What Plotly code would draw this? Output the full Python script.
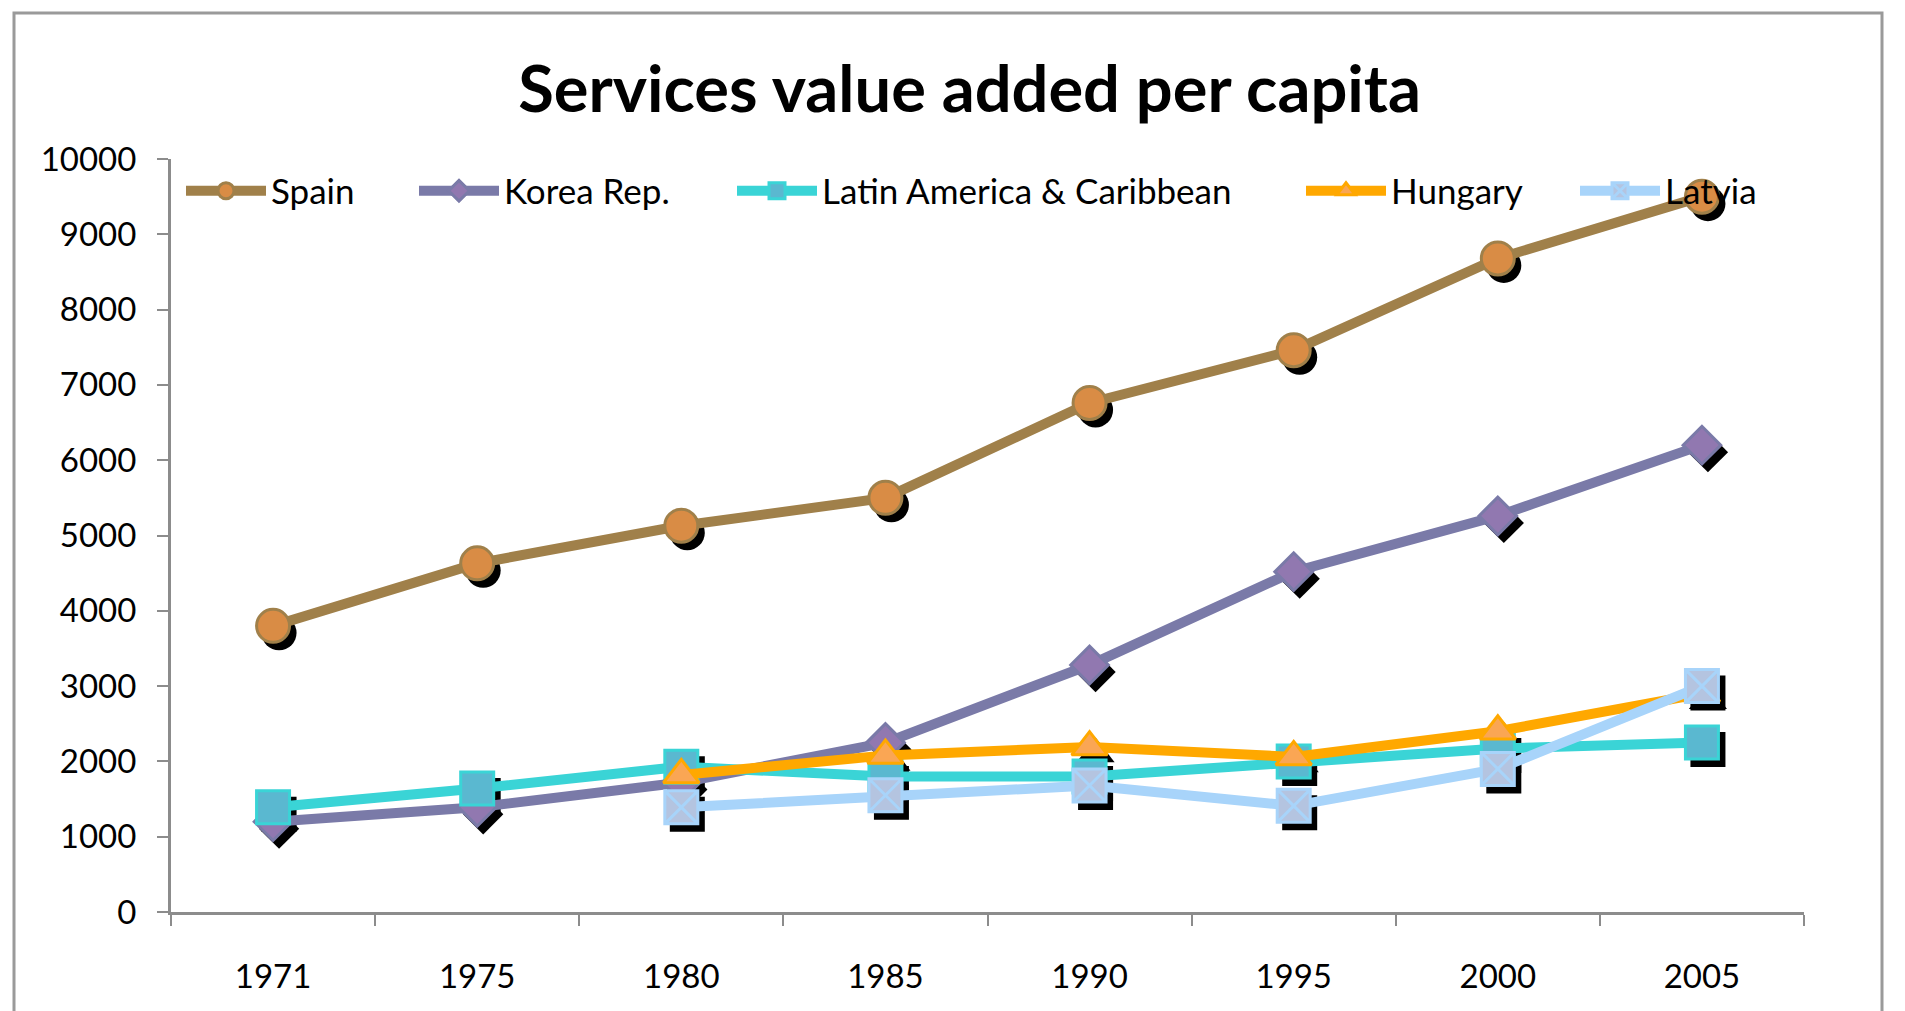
import plotly.graph_objects as go

# ---------------- data ----------------
years = ["1971", "1975", "1980", "1985", "1990", "1995", "2000", "2005"]
spain = [3800, 4630, 5130, 5500, 6760, 7460, 8680, 9500]
korea = [1200, 1390, 1720, 2250, 3280, 4520, 5260, 6200]
latam = [1390, 1640, 1930, 1800, 1800, 2000, 2170, 2250]
hungary = [None, None, 1820, 2080, 2190, 2060, 2400, 2900]
latvia = [None, None, 1390, 1550, 1680, 1410, 1900, 3000]
series_names = ["Spain", "Korea Rep.", "Latin America & Caribbean", "Hungary", "Latvia"]
series_values = [spain, korea, latam, hungary, latvia]
y_ticks = [0, 1000, 2000, 3000, 4000, 5000, 6000, 7000, 8000, 9000, 10000]

# ---------------- styles ----------------
styles = [
    dict(line="#A0804A", fill="#D98C45", symbol="circle", size=33),
    dict(line="#7A7AA8", fill="#9178B0", symbol="diamond", size=29),
    dict(line="#3AD4D6", fill="#5AB8D0", symbol="square", size=33),
    dict(line="#FFA800", fill="#FAA654", symbol="triangle-up", size=31),
    dict(line="#A8D4FA", fill="#B4C4E0", symbol="square-x", size=33),
]
legend_px = [186, 419, 737, 1306, 1580]  # left edge of legend symbol (px)

FONT = "Lato, 'Open Sans', Arial, sans-serif"
W, H = 1905, 1011
ML, MR, MT, MB = 171, 95, 159, 92
PW, PH = W - ML - MR, H - MT - MB
DX, DY = 6, 7  # shadow offset in px

fig = go.Figure()

# shadows (drawn first, on offset hidden axes)
for name, vals, st in zip(series_names, series_values, styles):
    fig.add_trace(go.Scatter(
        x=years, y=vals, mode="markers", xaxis="x", yaxis="y",
        marker=dict(symbol=st["symbol"].replace("-x", ""), size=st["size"] + 2,
                    color="black", line=dict(width=0)),
        showlegend=False, hoverinfo="skip"))

# main series
for i, (name, vals, st) in enumerate(zip(series_names, series_values, styles)):
    fig.add_trace(go.Scatter(
        x=years, y=vals, name=name, mode="lines+markers", xaxis="x2", yaxis="y2",
        line=dict(color=st["line"], width=10),
        marker=dict(symbol=st["symbol"], size=st["size"], color=st["fill"],
                    line=dict(color=st["line"], width=3)),
        legend="legend" if i == 0 else f"legend{i+1}"))

axis_common = dict(type="category", categoryorder="array", categoryarray=years,
                   range=[-0.5, 7.5])

layout = dict(
    width=W, height=H,
    margin=dict(l=ML, r=MR, t=MT, b=MB, pad=0),
    paper_bgcolor="white", plot_bgcolor="rgba(0,0,0,0)",
    font=dict(family=FONT, size=33, color="black"),
    title=dict(text="<b>Services value added per capita</b>", x=0.509, xanchor="center",
               y=1 - 89 / H, yanchor="middle", font=dict(family=FONT, size=65, color="black")),
    xaxis=dict(**axis_common, domain=[DX / PW, 1], anchor="y", visible=False),
    yaxis=dict(range=[0, 10000], domain=[0, 1 - DY / PH], anchor="x", visible=False),
    xaxis2=dict(**axis_common, domain=[0, 1 - DX / PW], anchor="y2",
                showline=True, linecolor="#8C8C8C", linewidth=3,
                ticks="outside", tickson="boundaries", ticklen=11, tickwidth=2,
                tickcolor="#8C8C8C", showgrid=False, zeroline=False,
                ticklabelstandoff=33, tickfont=dict(size=33)),
    yaxis2=dict(range=[0, 10000], domain=[DY / PH, 1], anchor="x2",
                tickvals=y_ticks, ticktext=[str(v) for v in y_ticks],
                showline=True, linecolor="#8C8C8C", linewidth=3,
                ticks="outside", ticklen=11, tickwidth=2, tickcolor="#8C8C8C",
                showgrid=False, zeroline=False, ticklabelstandoff=14,
                tickfont=dict(size=33)),
    shapes=[dict(type="rect", xref="paper", yref="paper",
                 x0=(14 - ML) / PW, x1=(1882 - ML) / PW,
                 y0=-0.3, y1=(H - MB - 13) / PH,
                 line=dict(color="#9A9A9A", width=3), fillcolor="rgba(0,0,0,0)",
                 layer="below")],
    showlegend=True,
)
leg_y = (H - MB - 191) / PH
for i, px in enumerate(legend_px):
    key = "legend" if i == 0 else f"legend{i+1}"
    layout[key] = dict(x=(px - 5 - ML) / PW, xanchor="left", y=leg_y, yanchor="middle",
                       orientation="h", bgcolor="rgba(0,0,0,0)",
                       font=dict(family=FONT, size=35, color="black"),
                       itemwidth=80, itemsizing="trace")
fig.update_layout(**layout)

fig.write_html("out.html", config={"displayModeBar": False},
               post_script="document.body.style.margin='0';document.body.style.overflow='hidden';")
